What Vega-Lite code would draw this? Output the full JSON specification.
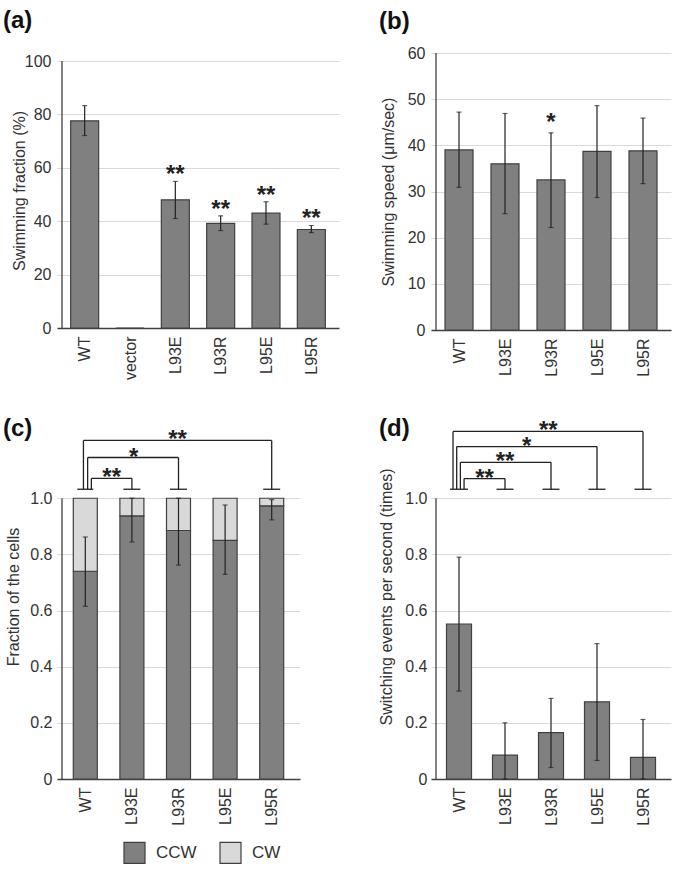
{
  "$schema": "https://vega.github.io/schema/vega-lite/v6.json",
  "background": "white",
  "padding": {"left": 3, "top": 9, "right": 5, "bottom": 5},
  "columns": 2,
  "bounds": "flush",
  "align": "each",
  "spacing": {"row": 84, "column": 92},
  "config": {
    "font": "Liberation Sans",
    "view": {"stroke": null},
    "axis": {
      "labelFont": "Liberation Sans", "labelFontSize": 16, "labelColor": "#333333",
      "titleFont": "Liberation Sans", "titleFontSize": 16, "titleFontWeight": "normal", "titleColor": "#333333",
      "ticks": false, "gridColor": "#d9d9d9", "gridWidth": 1.2,
      "domainColor": "#404040", "domainWidth": 1.3
    },
    "title": {"font": "Liberation Sans", "fontSize": 24, "fontWeight": "bold", "anchor": "start", "frame": "group", "color": "#111111", "baseline": "alphabetic"},
    "legend": {"labelFont": "Liberation Sans"}
  },
  "datasets": {
    "a": [
      {"strain": "WT", "i": 0, "val": 77.6, "lo": 72.1, "hi": 83.3, "sig": ""},
      {"strain": "vector", "i": 1, "val": 0, "lo": null, "hi": null, "sig": ""},
      {"strain": "L93E", "i": 2, "val": 48.0, "lo": 41.0, "hi": 54.9, "sig": "**"},
      {"strain": "L93R", "i": 3, "val": 39.2, "lo": 36.5, "hi": 42.0, "sig": "**"},
      {"strain": "L95E", "i": 4, "val": 43.0, "lo": 38.9, "hi": 47.3, "sig": "**"},
      {"strain": "L95R", "i": 5, "val": 36.9, "lo": 35.7, "hi": 38.4, "sig": "**"}
    ],
    "b": [
      {"strain": "WT", "i": 0, "val": 39.0, "lo": 30.9, "hi": 47.2, "sig": ""},
      {"strain": "L93E", "i": 1, "val": 36.0, "lo": 25.2, "hi": 46.9, "sig": ""},
      {"strain": "L93R", "i": 2, "val": 32.5, "lo": 22.2, "hi": 42.7, "sig": "*"},
      {"strain": "L95E", "i": 3, "val": 38.7, "lo": 28.7, "hi": 48.6, "sig": ""},
      {"strain": "L95R", "i": 4, "val": 38.8, "lo": 31.7, "hi": 45.9, "sig": ""}
    ],
    "c": [
      {"strain": "WT", "i": 0, "dir": "CCW", "frac": 0.74},
      {"strain": "WT", "i": 0, "dir": "CW", "frac": 0.26},
      {"strain": "L93E", "i": 1, "dir": "CCW", "frac": 0.937},
      {"strain": "L93E", "i": 1, "dir": "CW", "frac": 0.063},
      {"strain": "L93R", "i": 2, "dir": "CCW", "frac": 0.885},
      {"strain": "L93R", "i": 2, "dir": "CW", "frac": 0.115},
      {"strain": "L95E", "i": 3, "dir": "CCW", "frac": 0.85},
      {"strain": "L95E", "i": 3, "dir": "CW", "frac": 0.15},
      {"strain": "L95R", "i": 4, "dir": "CCW", "frac": 0.973},
      {"strain": "L95R", "i": 4, "dir": "CW", "frac": 0.027}
    ],
    "cerr": [
      {"strain": "WT", "i": 0, "lo": 0.615, "hi": 0.862},
      {"strain": "L93E", "i": 1, "lo": 0.844, "hi": 1.0},
      {"strain": "L93R", "i": 2, "lo": 0.762, "hi": 1.0},
      {"strain": "L95E", "i": 3, "lo": 0.729, "hi": 0.976},
      {"strain": "L95R", "i": 4, "lo": 0.923, "hi": 0.995}
    ],
    "cbr": [
      {"from": 0.13, "to": 1, "lvl": 1.071, "mid": 0.565, "sig": "**"},
      {"from": 0.05, "to": 2, "lvl": 1.145, "mid": 1.04, "sig": "*"},
      {"from": -0.04, "to": 4, "lvl": 1.206, "mid": 1.98, "sig": "**"}
    ],
    "d": [
      {"strain": "WT", "i": 0, "val": 0.552, "lo": 0.313, "hi": 0.79},
      {"strain": "L93E", "i": 1, "val": 0.085, "lo": 0.0, "hi": 0.2},
      {"strain": "L93R", "i": 2, "val": 0.165, "lo": 0.041, "hi": 0.287},
      {"strain": "L95E", "i": 3, "val": 0.275, "lo": 0.066, "hi": 0.482},
      {"strain": "L95R", "i": 4, "val": 0.077, "lo": 0.0, "hi": 0.212}
    ],
    "dbr": [
      {"from": 0.11, "to": 1, "lvl": 1.07, "mid": 0.555, "sig": "**"},
      {"from": 0.03, "to": 2, "lvl": 1.128, "mid": 1.0, "sig": "**"},
      {"from": -0.05, "to": 3, "lvl": 1.184, "mid": 1.47, "sig": "*"},
      {"from": -0.13, "to": 4, "lvl": 1.238, "mid": 1.94, "sig": "**"}
    ]
  },
  "concat": [
    {
      "width": 282, "height": 275,
      "title": {"text": "(a)", "dx": -54, "offset": 20},
      "data": {"name": "a"},
      "layer": [
        {
          "mark": {"type": "bar", "width": 28, "fill": "#808080", "stroke": "#404040", "strokeWidth": 1.2},
          "encoding": {
            "x": {"field": "i", "type": "quantitative", "title": null,
              "scale": {"domain": [-0.5, 5.5], "nice": false, "zero": false},
              "axis": {"values": [0, 1, 2, 3, 4, 5], "labelExpr": "['WT','vector','L93E','L93R','L95E','L95R'][datum.value]", "labelAngle": 270, "grid": false, "labelPadding": 8}},
            "y": {"field": "val", "type": "quantitative", "title": "Swimming fraction (%)",
              "scale": {"domain": [0, 103], "nice": false},
              "axis": {"values": [0, 20, 40, 60, 80, 100], "domain": false, "grid": true, "labelPadding": 6, "titlePadding": -3}}
          }
        },
        {
          "transform": [{"filter": "isValid(datum.lo)"}],
          "mark": {"type": "errorbar", "color": "#222222", "thickness": 1.2, "ticks": {"size": 5, "thickness": 1.2}},
          "encoding": {
            "x": {"field": "i", "type": "quantitative", "title": null},
            "y": {"field": "lo", "type": "quantitative", "title": "Swimming fraction (%)"},
            "y2": {"field": "hi"}
          }
        },
        {
          "mark": {"type": "text", "fontSize": 24, "fontWeight": "bold", "baseline": "middle", "dy": -6, "color": "#222222"},
          "encoding": {
            "x": {"field": "i", "type": "quantitative", "title": null},
            "y": {"field": "hi", "type": "quantitative", "title": "Swimming fraction (%)"},
            "text": {"field": "sig", "type": "nominal"}
          }
        },
        {
          "data": {"values": [{"y0": 0, "y1": 100, "x0": -0.5}]},
          "mark": {"type": "rule", "color": "#404040", "strokeWidth": 1.3},
          "encoding": {"x": {"field": "x0", "type": "quantitative"}, "y": {"field": "y0", "type": "quantitative"}, "y2": {"field": "y1"}}
        }
      ]
    },
    {
      "width": 240, "height": 277,
      "title": {"text": "(b)", "dx": -52, "offset": 11},
      "data": {"name": "b"},
      "layer": [
        {
          "mark": {"type": "bar", "width": 28, "fill": "#808080", "stroke": "#404040", "strokeWidth": 1.2},
          "encoding": {
            "x": {"field": "i", "type": "quantitative", "title": null,
              "scale": {"domain": [-0.5, 4.5], "nice": false, "zero": false},
              "axis": {"values": [0, 1, 2, 3, 4], "labelExpr": "['WT','L93E','L93R','L95E','L95R'][datum.value]", "labelAngle": 270, "grid": false, "labelPadding": 8}},
            "y": {"field": "val", "type": "quantitative", "title": "Swimming speed (μm/sec)",
              "scale": {"domain": [0, 60], "nice": false},
              "axis": {"values": [0, 10, 20, 30, 40, 50, 60], "domain": false, "grid": true, "labelPadding": 6, "titlePadding": 11}}
          }
        },
        {
          "mark": {"type": "errorbar", "color": "#222222", "thickness": 1.2, "ticks": {"size": 5, "thickness": 1.2}},
          "encoding": {
            "x": {"field": "i", "type": "quantitative", "title": null},
            "y": {"field": "lo", "type": "quantitative", "title": "Swimming speed (μm/sec)"},
            "y2": {"field": "hi"}
          }
        },
        {
          "mark": {"type": "text", "fontSize": 24, "fontWeight": "bold", "baseline": "middle", "dy": -10, "color": "#222222"},
          "encoding": {
            "x": {"field": "i", "type": "quantitative", "title": null},
            "y": {"field": "hi", "type": "quantitative", "title": "Swimming speed (μm/sec)"},
            "text": {"field": "sig", "type": "nominal"}
          }
        },
        {
          "data": {"values": [{"y0": 0, "y1": 60, "x0": -0.5}]},
          "mark": {"type": "rule", "color": "#404040", "strokeWidth": 1.3},
          "encoding": {"x": {"field": "x0", "type": "quantitative"}, "y": {"field": "y0", "type": "quantitative"}, "y2": {"field": "y1"}}
        }
      ]
    },
    {
      "width": 243, "height": 365,
      "title": {"text": "(c)", "dx": -54, "offset": -27},
      "layer": [
        {
          "data": {"name": "c"},
          "mark": {"type": "bar", "width": 24, "stroke": "#404040", "strokeWidth": 1.2},
          "encoding": {
            "x": {"field": "i", "type": "quantitative", "title": null,
              "scale": {"domain": [-0.5, 4.5], "nice": false, "zero": false},
              "axis": {"values": [0, 1, 2, 3, 4], "labelExpr": "['WT','L93E','L93R','L95E','L95R'][datum.value]", "labelAngle": 270, "grid": false, "labelPadding": 8}},
            "y": {"field": "frac", "type": "quantitative", "stack": "zero", "title": "Fraction of the cells",
              "scale": {"domain": [0, 1.3], "nice": false},
              "axis": {"values": [0, 0.2, 0.4, 0.6, 0.8, 1.0], "labelExpr": "datum.value == 0 ? '0' : format(datum.value, '.1f')", "domain": false, "grid": true, "labelPadding": 5, "titlePadding": 8}},
            "color": {"field": "dir", "type": "nominal",
              "scale": {"domain": ["CCW", "CW"], "range": ["#808080", "#d9d9d9"]},
              "legend": {"orient": "none", "legendX": 66, "legendY": 788, "direction": "horizontal", "title": null,
                "symbolType": "square", "symbolSize": 441, "symbolStrokeColor": "#404040", "symbolStrokeWidth": 1.2,
                "labelFontSize": 17, "labelColor": "#333333", "labelOffset": 10, "columnPadding": 20, "padding": 0}},
            "order": {"field": "dir", "type": "ordinal"}
          }
        },
        {
          "data": {"name": "cerr"},
          "mark": {"type": "errorbar", "color": "#222222", "thickness": 1.2, "ticks": {"size": 5, "thickness": 1.2}},
          "encoding": {
            "x": {"field": "i", "type": "quantitative", "title": null},
            "y": {"field": "lo", "type": "quantitative", "title": "Fraction of the cells"},
            "y2": {"field": "hi"}
          }
        },
        {
          "data": {"values": [{"y0": 0, "y1": 1, "x0": -0.5}]},
          "mark": {"type": "rule", "color": "#404040", "strokeWidth": 1.3},
          "encoding": {"x": {"field": "x0", "type": "quantitative"}, "y": {"field": "y0", "type": "quantitative"}, "y2": {"field": "y1"}}
        },
        {
          "data": {"name": "cbr"},
          "mark": {"type": "rule", "color": "#222222", "strokeWidth": 1.3},
          "encoding": {"x": {"field": "from", "type": "quantitative"}, "x2": {"field": "to"}, "y": {"field": "lvl", "type": "quantitative"}}
        },
        {
          "data": {"name": "cbr"},
          "mark": {"type": "rule", "color": "#222222", "strokeWidth": 1.3},
          "encoding": {"x": {"field": "from", "type": "quantitative"}, "y": {"field": "lvl", "type": "quantitative"}, "y2": {"datum": 1.032}}
        },
        {
          "data": {"name": "cbr"},
          "mark": {"type": "rule", "color": "#222222", "strokeWidth": 1.3},
          "encoding": {"x": {"field": "to", "type": "quantitative"}, "y": {"field": "lvl", "type": "quantitative"}, "y2": {"datum": 1.032}}
        },
        {
          "data": {"name": "cbr"},
          "mark": {"type": "tick", "orient": "horizontal", "size": 17, "thickness": 1.3, "color": "#222222", "opacity": 1},
          "encoding": {"x": {"field": "to", "type": "quantitative"}, "y": {"datum": 1.032, "type": "quantitative"}}
        },
        {
          "data": {"values": [{"x0": 0, "t": 1.032}]},
          "mark": {"type": "tick", "orient": "horizontal", "size": 16, "thickness": 1.3, "color": "#222222", "opacity": 1},
          "encoding": {"x": {"field": "x0", "type": "quantitative"}, "y": {"field": "t", "type": "quantitative"}}
        },
        {
          "data": {"name": "cbr"},
          "mark": {"type": "text", "fontSize": 24, "fontWeight": "bold", "baseline": "middle", "color": "#222222"},
          "encoding": {"x": {"field": "mid", "type": "quantitative"}, "y": {"field": "lvl", "type": "quantitative"}, "text": {"field": "sig", "type": "nominal"}}
        }
      ]
    },
    {
      "width": 240, "height": 365,
      "title": {"text": "(d)", "dx": -52, "offset": -27},
      "layer": [
        {
          "data": {"name": "d"},
          "mark": {"type": "bar", "width": 25, "fill": "#808080", "stroke": "#404040", "strokeWidth": 1.2},
          "encoding": {
            "x": {"field": "i", "type": "quantitative", "title": null,
              "scale": {"domain": [-0.5, 4.5], "nice": false, "zero": false},
              "axis": {"values": [0, 1, 2, 3, 4], "labelExpr": "['WT','L93E','L93R','L95E','L95R'][datum.value]", "labelAngle": 270, "grid": false, "labelPadding": 8}},
            "y": {"field": "val", "type": "quantitative", "title": "Switching events per second (times)",
              "scale": {"domain": [0, 1.3], "nice": false},
              "axis": {"values": [0, 0.2, 0.4, 0.6, 0.8, 1.0], "labelExpr": "datum.value == 0 ? '0' : format(datum.value, '.1f')", "domain": false, "grid": true, "labelPadding": 4, "titlePadding": 10}}
          }
        },
        {
          "data": {"name": "d"},
          "mark": {"type": "errorbar", "color": "#222222", "thickness": 1.2, "ticks": {"size": 5, "thickness": 1.2}},
          "encoding": {
            "x": {"field": "i", "type": "quantitative", "title": null},
            "y": {"field": "lo", "type": "quantitative", "title": "Switching events per second (times)"},
            "y2": {"field": "hi"}
          }
        },
        {
          "data": {"values": [{"y0": 0, "y1": 1, "x0": -0.5}]},
          "mark": {"type": "rule", "color": "#404040", "strokeWidth": 1.3},
          "encoding": {"x": {"field": "x0", "type": "quantitative"}, "y": {"field": "y0", "type": "quantitative"}, "y2": {"field": "y1"}}
        },
        {
          "data": {"name": "dbr"},
          "mark": {"type": "rule", "color": "#222222", "strokeWidth": 1.3},
          "encoding": {"x": {"field": "from", "type": "quantitative"}, "x2": {"field": "to"}, "y": {"field": "lvl", "type": "quantitative"}}
        },
        {
          "data": {"name": "dbr"},
          "mark": {"type": "rule", "color": "#222222", "strokeWidth": 1.3},
          "encoding": {"x": {"field": "from", "type": "quantitative"}, "y": {"field": "lvl", "type": "quantitative"}, "y2": {"datum": 1.032}}
        },
        {
          "data": {"name": "dbr"},
          "mark": {"type": "rule", "color": "#222222", "strokeWidth": 1.3},
          "encoding": {"x": {"field": "to", "type": "quantitative"}, "y": {"field": "lvl", "type": "quantitative"}, "y2": {"datum": 1.032}}
        },
        {
          "data": {"name": "dbr"},
          "mark": {"type": "tick", "orient": "horizontal", "size": 17, "thickness": 1.3, "color": "#222222", "opacity": 1},
          "encoding": {"x": {"field": "to", "type": "quantitative"}, "y": {"datum": 1.032, "type": "quantitative"}}
        },
        {
          "data": {"values": [{"x0": 0, "t": 1.032}]},
          "mark": {"type": "tick", "orient": "horizontal", "size": 18, "thickness": 1.3, "color": "#222222", "opacity": 1},
          "encoding": {"x": {"field": "x0", "type": "quantitative"}, "y": {"field": "t", "type": "quantitative"}}
        },
        {
          "data": {"name": "dbr"},
          "mark": {"type": "text", "fontSize": 24, "fontWeight": "bold", "baseline": "middle", "color": "#222222"},
          "encoding": {"x": {"field": "mid", "type": "quantitative"}, "y": {"field": "lvl", "type": "quantitative"}, "text": {"field": "sig", "type": "nominal"}}
        }
      ]
    }
  ]
}
